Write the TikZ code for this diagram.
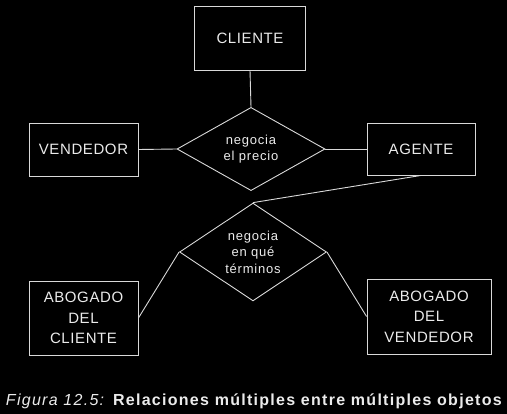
\documentclass[tikz,border=0pt]{standalone}
\usepackage{fontspec}
\setmainfont{Liberation Sans}
\usetikzlibrary{shapes.geometric}
\definecolor{linea}{gray}{0.85}
\definecolor{texto}{gray}{0.92}
\begin{document}
\begin{tikzpicture}[
    x=1pt, y=-1pt,
    entidad/.style={rectangle, draw=linea, line width=0.9pt, inner sep=0pt, align=center, text=texto, font=\fontsize{15}{20.5}\selectfont\addfontfeature{LetterSpace=4}},
    relacion/.style={diamond, draw=linea, line width=0.9pt, inner sep=0pt, minimum width=148pt, minimum height=78pt, align=center, text=texto, font=\fontsize{13}{16.5}\selectfont\addfontfeature{LetterSpace=6}},
    linea/.style={draw=linea, line width=0.9pt}
]
    % Fondo
    \fill[black] (0,0) rectangle (507,414);

    % Entidades
    \node[entidad, minimum width=111pt, minimum height=64pt] (cliente) at (250,38) {CLIENTE};
    \node[entidad, minimum width=109pt, minimum height=53pt] (vendedor) at (83.5,149.5) {VENDEDOR};
    \node[entidad, minimum width=108pt, minimum height=52pt] (agente) at (421,149) {AGENTE};
    \node[entidad, minimum width=109pt, minimum height=74pt] (abcliente) at (83.5,318) {ABOGADO\\DEL\\CLIENTE};
    \node[entidad, minimum width=124pt, minimum height=75pt] (abvendedor) at (429,316.5) {ABOGADO\\DEL\\VENDEDOR};

    % Relaciones
    \node[relacion] (precio) at (251,149) {negocia\\el precio};
    \node[relacion, minimum width=147pt, minimum height=77pt] (terminos) at (253,252) {negocia\\en qué\\términos};

    % Conexiones
    \draw[linea] (cliente.south) -- (precio.north);
    \draw[linea] (vendedor.east) -- (precio.west);
    \draw[linea] (precio.east) -- (agente.west);
    \draw[linea] (agente.south) -- (terminos.north);
    \draw[linea] (terminos.west) -- (abcliente.east);
    \draw[linea] (terminos.east) -- (abvendedor.west);

    % Pie de figura
    \node[anchor=base, inner sep=0pt, text=texto, font=\fontsize{16}{18}\selectfont\addfontfeature{LetterSpace=8}] (pie) at (254.5,406)
        {\textit{Figura 12.5:} \textbf{Relaciones múltiples entre múltiples objetos}};
\end{tikzpicture}
\end{document}
